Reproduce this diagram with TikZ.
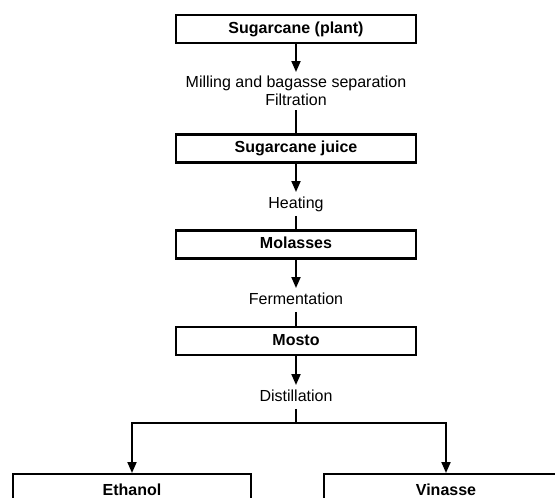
\documentclass[tikz,border=0pt]{standalone}
\usepackage{fontspec}
\setmainfont{Liberation Sans}
\usetikzlibrary{arrows.meta}
\begin{document}
\begin{tikzpicture}[x=1pt,y=-1pt,
  stagebox/.style={draw, line width=2.4pt, minimum width=240pt, minimum height=28pt, inner sep=0pt,
    font=\fontsize{16}{19}\selectfont\bfseries, text height=11.5pt, text depth=3.4pt},
  endbox/.style={draw, line width=2.4pt, anchor=north, inner xsep=0pt, inner ysep=4pt,
    font=\fontsize{16}{19}\selectfont\bfseries, text height=17pt, text depth=40pt},
  steplabel/.style={inner sep=4pt, font=\fontsize{16}{18}\selectfont, align=center},
  onelabel/.style={steplabel, text height=12pt, text depth=3.5pt},
  conn/.style={line width=2pt},
  arr/.style={line width=2pt, -{Triangle[width=9pt,length=11pt]}}
]
\useasboundingbox (0,0) rectangle (555,498);
\clip (0,0) rectangle (555,498);

\node[stagebox] (b1) at (296,29) {Sugarcane (plant)};
\node[stagebox] (b2) at (296,148.5) {Sugarcane juice};
\node[stagebox] (b3) at (296,244.5) {Molasses};
\node[stagebox] (b4) at (296,341) {Mosto};

\node[steplabel, anchor=north] (l1) at (296,72) {Milling and bagasse separation\\Filtration};
\node[onelabel, anchor=north] (l2) at (296,192) {Heating};
\node[onelabel, anchor=north] (l3) at (296,288) {Fermentation};
\node[onelabel, anchor=north] (l4) at (296,385) {Distillation};

\node[endbox, minimum width=238pt] (eth) at (132,473) {Ethanol};
\node[endbox, minimum width=244pt] (vin) at (446,473) {Vinasse};

\coordinate (split) at (296,423);

\draw[arr] (b1) -- (l1);
\draw[conn] (l1) -- (b2);
\draw[arr] (b2) -- (l2);
\draw[conn] (l2) -- (b3);
\draw[arr] (b3) -- (l3);
\draw[conn] (l3) -- (b4);
\draw[arr] (b4) -- (l4);
\draw[conn] (l4) -- (split);
\draw[arr] (split) -| (eth.north);
\draw[arr] (split) -| (vin.north);
\end{tikzpicture}
\end{document}
